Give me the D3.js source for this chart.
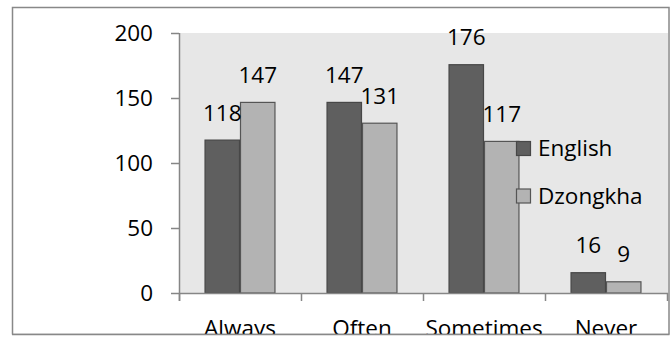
<!DOCTYPE html>
<html>
<head>
<meta charset="utf-8">
<script src="https://cdn.jsdelivr.net/npm/d3@7"></script>
<style>
  html, body { margin: 0; padding: 0; background: #ffffff; }
  svg { display: block; }
  text { font-family: "Open Sans", "Noto Sans", sans-serif; fill: #000; }
</style>
</head>
<body>
<svg id="chart" width="672" height="337"></svg>
<script>
// Frequency responses by language
const categories = ["Always", "Often", "Sometimes", "Never"];
const series = ["English", "Dzongkha"];
const englishValues = [118, 147, 176, 16];
const dzongkhaValues = [147, 131, 117, 9];
const yTicks = [0, 50, 100, 150, 200];

const valuesBySeries = { English: englishValues, Dzongkha: dzongkhaValues };
const fills = { English: "#5f5f5f", Dzongkha: "#b3b3b3" };
const strokes = { English: "#474747", Dzongkha: "#555555" };

// One record per bar
const bars = [];
categories.forEach((cat, i) => {
  series.forEach(s => {
    const v = valuesBySeries[s][i];
    bars.push({ cat: cat, s: s, v: v, label: String(v) });
  });
});

const svg = d3.select("#chart");
const fontSize = 22.5;

// Outer frame
svg.append("rect")
  .attr("x", 12.5).attr("y", 7.5)
  .attr("width", 656.5).attr("height", 327)
  .attr("fill", "none").attr("stroke", "#888888").attr("stroke-width", 1.5);

const plot = { left: 179, right: 667, top: 33, bottom: 293 };

// Plot area background
svg.append("rect")
  .attr("x", plot.left).attr("y", plot.top)
  .attr("width", plot.right - plot.left + 1).attr("height", plot.bottom - plot.top)
  .attr("fill", "#e7e7e7");

const x = d3.scaleBand().domain(categories).range([plot.left, plot.right]).padding(0);
const xs = d3.scaleBand().domain(series).range([0, x.bandwidth()]).paddingInner(0).paddingOuter(0.72);
const y = d3.scaleLinear().domain([0, 200]).range([plot.bottom, plot.top]);

const barX = d => x(d.cat) + xs(d.s);

// Bars
svg.append("g").selectAll("rect")
  .data(bars)
  .join("rect")
  .attr("x", d => barX(d) + 0.5)
  .attr("y", d => y(d.v) + 0.5)
  .attr("width", xs.bandwidth() - 1)
  .attr("height", d => y(0) - y(d.v) - 0.5)
  .attr("fill", d => fills[d.s])
  .attr("stroke", d => strokes[d.s])
  .attr("stroke-width", 1.2);

// Value labels
svg.append("g").selectAll("text")
  .data(bars)
  .join("text")
  .attr("x", d => barX(d) + xs.bandwidth() / 2)
  .attr("y", d => y(d.v) - 19)
  .attr("text-anchor", "middle")
  .attr("font-size", fontSize)
  .text(d => d.label);

// Y axis
const yAxis = svg.append("g")
  .attr("transform", `translate(${plot.left},0)`)
  .call(d3.axisLeft(y).tickValues(yTicks).tickSize(8).tickPadding(18).tickSizeOuter(0));
yAxis.select(".domain").attr("stroke", "#868686").attr("stroke-width", 1.5)
  .attr("d", `M0.5,${plot.top}V${plot.bottom + 8}`);
yAxis.selectAll(".tick line").attr("stroke", "#868686").attr("stroke-width", 1.5);
yAxis.selectAll(".tick text").attr("font-size", fontSize).attr("font-family", "Open Sans").attr("fill", "#000");

// X axis with ticks at category boundaries
const xAxis = svg.append("g");
xAxis.append("line")
  .attr("x1", plot.left).attr("x2", plot.right + 1)
  .attr("y1", plot.bottom + 0.5).attr("y2", plot.bottom + 0.5)
  .attr("stroke", "#868686").attr("stroke-width", 1.5);
const boundaries = categories.map(c => x(c)).concat([x(categories[categories.length - 1]) + x.bandwidth()]);
xAxis.selectAll("line.tick")
  .data(boundaries)
  .join("line")
  .attr("class", "tick")
  .attr("x1", d => d + 0.5).attr("x2", d => d + 0.5)
  .attr("y1", plot.bottom).attr("y2", plot.bottom + 8)
  .attr("stroke", "#868686").attr("stroke-width", 1.5);
xAxis.selectAll("text.cat")
  .data(categories)
  .join("text")
  .attr("class", "cat")
  .attr("x", d => x(d) + x.bandwidth() / 2)
  .attr("y", 336)
  .attr("text-anchor", "middle")
  .attr("font-size", fontSize)
  .text(d => d);

// Bottom edge of the frame, drawn over the category labels
svg.append("rect").attr("x", 0).attr("y", 334.5).attr("width", 672).attr("height", 3).attr("fill", "#ffffff");
svg.append("line")
  .attr("x1", 12).attr("x2", 669.5).attr("y1", 334.5).attr("y2", 334.5)
  .attr("stroke", "#888888").attr("stroke-width", 1.5);

// Legend
const legend = svg.append("g").attr("transform", "translate(516,141)");
const legendItems = legend.selectAll("g")
  .data(series)
  .join("g")
  .attr("transform", (d, i) => `translate(0,${i * 47.5})`);
legendItems.append("rect")
  .attr("x", 0.5).attr("y", 0.5)
  .attr("width", 14).attr("height", 14)
  .attr("fill", d => fills[d])
  .attr("stroke", d => strokes[d])
  .attr("stroke-width", 1.2);
legendItems.append("text")
  .attr("x", 22).attr("y", 7.5)
  .attr("dy", "0.35em")
  .attr("font-size", fontSize)
  .text(d => d);
</script>
</body>
</html>
